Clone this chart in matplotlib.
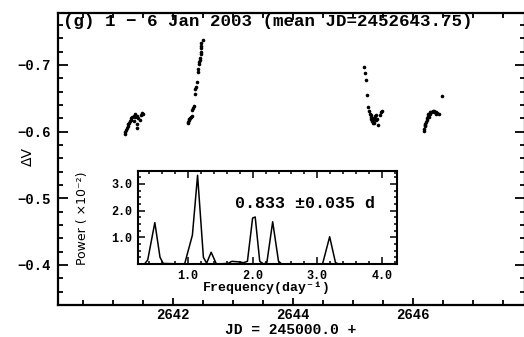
import matplotlib
matplotlib.use("Agg")
import matplotlib.pyplot as plt
from matplotlib.ticker import MultipleLocator, FixedLocator

# ---- light curve, 1-6 Jan 2003 (JD - 2450000) ----
jd_night1 = [2641.20, 2641.21, 2641.22, 2641.24, 2641.25, 2641.26, 2641.27,
             2641.29, 2641.30, 2641.31, 2641.33, 2641.35, 2641.36, 2641.37,
             2641.38, 2641.40, 2641.40, 2641.41, 2641.43, 2641.45, 2641.47,
             2641.49, 2641.51]
dv_night1 = [-0.596, -0.600, -0.603, -0.606, -0.608, -0.611, -0.613,
             -0.616, -0.618, -0.620, -0.622, -0.624, -0.616, -0.622,
             -0.626, -0.624, -0.605, -0.612, -0.621, -0.618, -0.625,
             -0.628, -0.627]

jd_night2 = [2642.25, 2642.26, 2642.27, 2642.28, 2642.29, 2642.31, 2642.32,
             2642.33, 2642.34, 2642.35, 2642.37, 2642.38, 2642.39, 2642.41,
             2642.43, 2642.43, 2642.44, 2642.44, 2642.45, 2642.46, 2642.47,
             2642.47, 2642.47, 2642.48, 2642.48, 2642.50]
dv_night2 = [-0.613, -0.615, -0.617, -0.619, -0.620, -0.622, -0.624,
             -0.632, -0.636, -0.639, -0.656, -0.664, -0.667, -0.674,
             -0.690, -0.694, -0.701, -0.704, -0.708, -0.711, -0.716,
             -0.720, -0.725, -0.729, -0.733, -0.737]

jd_night3 = [2645.18, 2645.20, 2645.22, 2645.24, 2645.26, 2645.27, 2645.28,
             2645.30, 2645.30, 2645.31, 2645.32, 2645.33, 2645.34, 2645.35,
             2645.36, 2645.37, 2645.38, 2645.39, 2645.41, 2645.42, 2645.45,
             2645.47, 2645.48]
dv_night3 = [-0.697, -0.688, -0.678, -0.655, -0.637, -0.631, -0.627,
             -0.622, -0.625, -0.619, -0.616, -0.613, -0.618, -0.620,
             -0.613, -0.624, -0.617, -0.625, -0.619, -0.610, -0.625,
             -0.629, -0.631]

jd_night4 = [2646.18, 2646.19, 2646.20, 2646.20, 2646.21, 2646.22, 2646.23,
             2646.24, 2646.25, 2646.26, 2646.27, 2646.28, 2646.29, 2646.31,
             2646.33, 2646.35, 2646.36, 2646.38, 2646.39, 2646.41, 2646.43,
             2646.49]
dv_night4 = [-0.601, -0.604, -0.608, -0.612, -0.610, -0.614, -0.617,
             -0.620, -0.623, -0.626, -0.622, -0.627, -0.629, -0.630,
             -0.631, -0.631, -0.629, -0.630, -0.627, -0.628, -0.626,
             -0.654]

# ---- periodogram ----
freq = [0.23, 0.33, 0.38, 0.49, 0.57, 0.62, 0.95, 1.07, 1.15, 1.24, 1.29,
        1.36, 1.44, 1.62, 1.68, 1.78, 1.86, 1.92, 2.00, 2.04, 2.11, 2.17,
        2.22, 2.31, 2.40, 2.45, 3.08, 3.19, 3.28, 3.33, 4.23]
power = [0.00, 0.00, 0.15, 1.55, 0.25, 0.02, 0.00, 1.08, 3.32, 0.25, 0.03,
         0.44, 0.00, 0.02, 0.10, 0.08, 0.05, 0.10, 1.72, 1.76, 0.10, 0.00,
         0.05, 1.58, 0.10, 0.00, 0.00, 1.02, 0.05, 0.00, 0.00]

period_text = "0.833 \u00b10.035 d"
title_text = "(g) 1 \u2212 6 Jan 2003 (mean JD=2452643.75)"

mono = ["Liberation Mono", "DejaVu Sans Mono"]
plt.rcParams["font.family"] = mono
plt.rcParams["font.weight"] = "bold"

W, H = 524, 337
fig = plt.figure(figsize=(W / 100, H / 100), dpi=100)


def box(x0, y0, x1, y1):
    # pixel box -> figure fraction rect
    return [x0 / W, 1 - y1 / H, (x1 - x0) / W, (y1 - y0) / H]


ax = fig.add_axes(box(58, 13, 524.5, 305))
for jd, dv in [(jd_night1, dv_night1), (jd_night2, dv_night2),
               (jd_night3, dv_night3), (jd_night4, dv_night4)]:
    ax.plot(jd, dv, "o", color="black", ms=2.6, mew=0)

ax.set_xlim(2640.09, 2647.86)
ax.set_ylim(-0.34, -0.778)
ax.xaxis.set_major_locator(FixedLocator([2642, 2644, 2646]))
ax.xaxis.set_minor_locator(MultipleLocator(0.5))
ax.yaxis.set_major_locator(MultipleLocator(0.1))
ax.yaxis.set_minor_locator(MultipleLocator(0.02))
ax.yaxis.set_major_formatter(plt.FuncFormatter(lambda v, p: f"{v:.1f}".replace("-", "\u2212")))
ax.tick_params(which="both", direction="in", top=True, right=True,
               width=1.3, labelsize=10)
ax.tick_params(which="major", length=7, pad=5)
ax.tick_params(which="minor", length=3.5)
ax.tick_params(axis="x", which="major", length=5, pad=2)
for s in ax.spines.values():
    s.set_linewidth(1.6)

ax.text(0.0107, 0.996, title_text, transform=ax.transAxes, fontsize=12.6,
        fontweight="bold", ha="left", va="top")
fig.text(28 / W, 1 - 156 / H, "\u0394V", rotation=90, fontsize=10,
         family=["DejaVu Sans"], fontweight="normal", ha="center", va="center")
fig.text(290.5 / W, 1 - 330 / H, "JD = 245000.0 +", fontsize=10.5,
         fontweight="bold", ha="center", va="center")

# ---- inset periodogram ----
ins = fig.add_axes(box(138, 170.5, 397, 264))
ins.plot(freq, power, color="black", lw=1.1)
ins.set_xlim(0.23, 4.23)
ins.set_ylim(0, 3.5)
ins.xaxis.set_major_locator(FixedLocator([1, 2, 3, 4]))
ins.xaxis.set_minor_locator(MultipleLocator(0.2))
ins.yaxis.set_major_locator(FixedLocator([1, 2, 3]))
ins.yaxis.set_minor_locator(MultipleLocator(0.25))
ins.xaxis.set_major_formatter(plt.FuncFormatter(lambda v, p: f"{v:.1f}"))
ins.yaxis.set_major_formatter(plt.FuncFormatter(lambda v, p: f"{v:.1f}"))
ins.tick_params(which="both", direction="in", top=True, right=True,
                width=1.1, labelsize=8.5)
ins.tick_params(which="major", length=5, pad=4)
ins.tick_params(which="minor", length=2.5)
for s in ins.spines.values():
    s.set_linewidth(1.5)

ins.text(0.375, 0.652, period_text, transform=ins.transAxes, fontsize=12,
         fontweight="bold", ha="left", va="center")
fig.text(267 / W, 1 - 288 / H, "Frequency(day\u207b\u00b9)", fontsize=9.5,
         fontweight="bold", ha="center", va="center")
fig.text(83 / W, 1 - 218 / H, "Power ( \u00d710\u207b\u00b2)", rotation=90,
         fontsize=9, family=["Liberation Sans Narrow", "DejaVu Sans"],
         fontweight="normal", ha="center", va="center")

fig.savefig("out.png", dpi=100)
